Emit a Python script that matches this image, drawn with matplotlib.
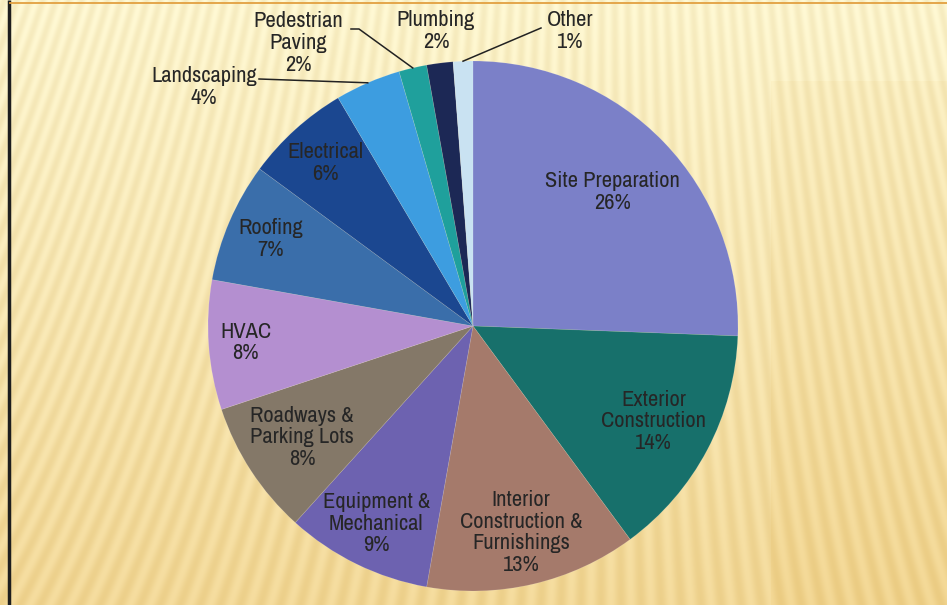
import numpy as np
import matplotlib
matplotlib.use("Agg")
import matplotlib.pyplot as plt
from matplotlib import font_manager

# ---- data ----
categories = ["Site Preparation", "Exterior\nConstruction", "Interior\nConstruction &\nFurnishings",
              "Equipment &\nMechanical", "Roadways &\nParking Lots", "HVAC", "Roofing", "Electrical",
              "Landscaping", "Pedestrian\nPaving", "Plumbing", "Other"]
values = [25.6, 14.3, 12.9, 8.9, 8.2, 7.9, 7.3, 6.4, 4.0, 1.7, 1.6, 1.2]
colors = ["#7b80c8", "#17706b", "#a57a6b", "#6d62b0", "#847868", "#b48fd0",
          "#3a6eaa", "#1b4790", "#3d9de0", "#1fa09c", "#1c2855", "#c9e2f2"]

# ---- layout ----
W, H = 947, 605
CX, CY, R = 473, 326, 265        # pie centre / radius in pixels (y from top)
inside_frac = [0.73, 0.77, 0.80, 0.83, 0.77, 0.86, 0.83, 0.83]
outside_text = {8: (204, 87), 9: (298, 43), 10: (436, 31), 11: (570, 31)}
outside_anchor = {8: [(259, 79)], 9: [(351, 29), (359, 29)], 11: [(541, 28)]}
TXT = "#262626"

# pick a narrow font if one is installed
names = sorted({f.name for f in font_manager.fontManager.ttflist})
narrow = [n for n in names if ("Narrow" in n or "Condensed" in n)]
if narrow:
    FONT = [narrow[0], "DejaVu Sans"]
    STRETCH = "normal"
    FS = 16.2
else:
    FONT = ["DejaVu Sans"]
    STRETCH = "condensed"
    FS = 13
FONT_PROPS = dict(family=FONT, fontstretch=STRETCH, fontsize=FS, fontweight="medium")

def Y(y):
    return H - y

fig = plt.figure(figsize=(W / 100, H / 100), dpi=100)
ax = fig.add_axes([0, 0, 1, 1])
ax.set_xlim(0, W)
ax.set_ylim(0, H)
ax.axis("off")

# ---- background (decorative striped gold gradient) ----
yy, xx = np.mgrid[0:H, 0:W].astype(float)
t = yy / H
top = np.array([251, 243, 203]) / 255
bot = np.array([241, 214, 148]) / 255
base = top[None, None, :] * (1 - t[..., None]) + bot[None, None, :] * t[..., None]
slant = 0.35 - 0.55 * (xx / W)
phase = (xx + slant * yy) * 2 * np.pi / 13.0
stripe = 0.028 * np.sin(phase)
img = base - stripe[..., None] * np.array([0.6, 0.9, 1.4])[None, None, :]
shade = ((xx > 770) & (yy > 80)).astype(float) * 0.02
img = img - shade[..., None] * np.array([0.3, 0.8, 1.6])[None, None, :]
img = np.clip(img, 0, 1)
ax.imshow(img, extent=[0, W, 0, H], origin="upper", aspect="auto", zorder=0)

# slide border details
ax.plot([9, 9], [0, H], color="#1e1e1e", lw=2.5, zorder=1, solid_capstyle="butt")
ax.plot([10, W], [Y(3), Y(3)], color="#e2a040", lw=1.3, zorder=1)

# ---- pie ----
wedges, _ = ax.pie(values, colors=colors, startangle=90, counterclock=False,
                   center=(CX, Y(CY)), radius=R, frame=False,
                   wedgeprops=dict(linewidth=0.5, edgecolor=(1, 1, 1, 0.15)))
for w in wedges:
    w.set_zorder(2)
ax.set_xlim(0, W)
ax.set_ylim(0, H)
ax.set_aspect("equal")

labels = [f"{c}\n{round(v)}%" for c, v in zip(categories, values)]

for i, w in enumerate(wedges):
    mid = np.deg2rad((w.theta1 + w.theta2) / 2)
    if i < len(inside_frac):
        f = inside_frac[i]
        x = CX + f * R * np.cos(mid)
        y = Y(CY) + f * R * np.sin(mid)
        ax.text(x, y, labels[i], ha="center", va="center", color=TXT,
                linespacing=1.1, zorder=3, **FONT_PROPS)
    else:
        tx, ty = outside_text[i]
        ax.text(tx, Y(ty), labels[i], ha="center", va="center", color=TXT,
                linespacing=1.1, zorder=3, **FONT_PROPS)
        if i in outside_anchor:
            ex = CX + 1.0 * R * np.cos(mid)
            ey = Y(CY) + 1.0 * R * np.sin(mid)
            pts = outside_anchor[i]
            xs = [p[0] for p in pts] + [ex]
            ys = [Y(p[1]) for p in pts] + [ey]
            ax.plot(xs, ys, color="#222222", lw=1.1, zorder=3)

fig.savefig("out.png", dpi=100)
